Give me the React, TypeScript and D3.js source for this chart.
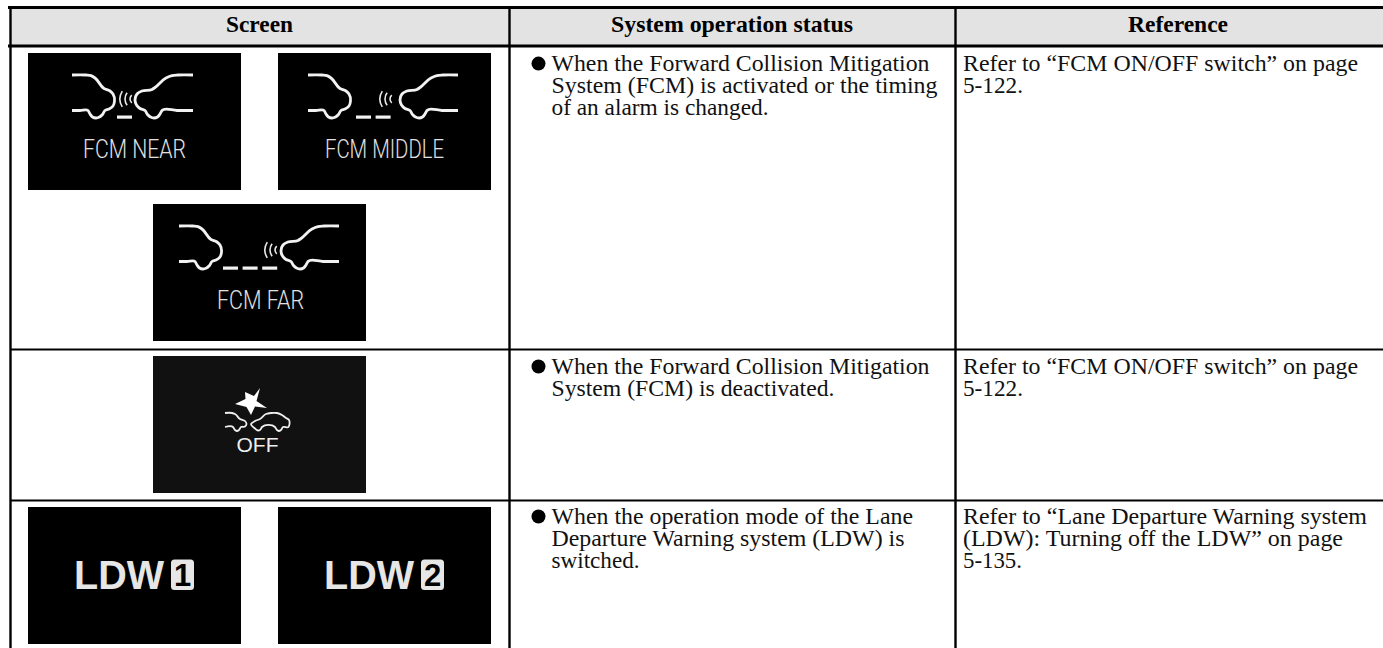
import React from "react";
import * as d3 from "d3";

// table text
const headers = ["Screen", "System operation status", "Reference"];
const statusLines = [
  ["When the Forward Collision Mitigation", "System (FCM) is activated or the timing", "of an alarm is changed."],
  ["When the Forward Collision Mitigation", "System (FCM) is deactivated."],
  ["When the operation mode of the Lane", "Departure Warning system (LDW) is", "switched."],
];
const referenceLines = [
  ["Refer to “FCM ON/OFF switch” on page", "5-122."],
  ["Refer to “FCM ON/OFF switch” on page", "5-122."],
  ["Refer to “Lane Departure Warning system", "(LDW): Turning off the LDW” on page", "5-135."],
];
// measured line widths, same shape as the text above
const statusWidths = [[378, 386, 217], [378, 283], [361.5, 353, 88]];
const referenceWidths = [[395, 60], [395, 60], [404, 380, 59]];

// screen tiles
const fcmTiles = [
  { label: "FCM NEAR", dashes: 1, col: 0, row: 0, carLeft: 44, carRight: 165, dashX: 89, waveX: 107, labelX: 55, labelW: 103 },
  { label: "FCM MIDDLE", dashes: 2, col: 1, row: 0, carLeft: 30, carRight: 180, dashX: 78, waveX: 117, labelX: 47, labelW: 119 },
  { label: "FCM FAR", dashes: 3, col: 2, row: 1, carLeft: 26, carRight: 186, dashX: 70, waveX: 127, labelX: 64, labelW: 87 },
];
const ldwTiles = [
  { digit: "1", col: 0 },
  { digit: "2", col: 1 },
];

// glyph outlines in local pixels
const carRearPts: [number, number][] = [[0, 0], [14, 0], [19, 0.6], [23, 3], [32, 13.5], [38, 16], [41, 19], [42.5, 26], [41, 31], [37, 34], [33, 35.5], [30.5, 39.5], [27.5, 42], [24, 43], [20.5, 42], [18, 39], [16, 35.5], [8, 35.5], [0, 35.5]];
const carFrontPts: [number, number][] = [[0, 0], [15, 0], [21, 0.6], [27, 3], [38, 12.5], [41, 14.5], [51, 16], [56, 19], [58, 25], [56.5, 30], [53, 33.5], [48, 35.5], [45.5, 39.5], [42.5, 42], [39, 43], [35.5, 42], [33, 39], [31, 35.5], [16, 35.5], [0, 35.5]];
const smallRearPts: [number, number][] = [[0, 0], [7, 0], [10, 1], [15, 6], [20, 8], [21.5, 11], [20, 13.5], [16, 14], [14, 17], [12, 18], [10, 17], [8, 14], [0, 14]];
const smallFrontPts: [number, number][] = [[0, 11], [4, 8], [9, 6], [15, 1], [20, 0], [26, 0], [31, 2], [35, 5], [38, 7], [38.5, 11], [37.5, 14], [32, 14], [30, 17], [28, 18], [26, 17], [24, 14], [11, 14], [9, 17], [7, 17.5], [4, 15.5]];
const starPts: [number, number][] = [[10, -15], [4, -7], [-5, -11], [-4.5, -4], [-15, 1], [-3.5, 4], [1, 12], [5, 3.5], [17, 5], [6.5, -2]];
const waves = [
  { r: 15, a: 32 },
  { r: 10, a: 38 },
  { r: 5, a: 50 },
];

const W = 1383;
const H = 648;
const colLines = [10.5, 509.5, 955.5];
const rowLines = [7.5, 46, 349.5, 500.5];
const rowBaseline = [24.6, 24, 23];
const tileW = 213;
const tileH = 137;
const tileX = d3.scaleOrdinal<number, number>().domain([0, 1, 2]).range([28, 278, 153]);
const textFont = "'Liberation Serif', serif";

const curved = d3.line().curve(d3.curveCatmullRom.alpha(1));
const closed = d3.line().curve(d3.curveCatmullRomClosed.alpha(1));
const straight = d3.line();

function Lines({ lines, widths, x, y }: { lines: string[]; widths: number[]; x: number; y: number }) {
  return (
    <>
      {lines.map((t, i) => (
        <text key={i} x={x} y={y + i * 22.3} fontFamily={textFont} fontSize={22.5} fill="#111" textLength={widths[i]} lengthAdjust="spacingAndGlyphs">
          {t}
        </text>
      ))}
    </>
  );
}

function FcmTile({ tile, y }: { tile: (typeof fcmTiles)[number]; y: number }) {
  const x = tileX(tile.col);
  const wave = d3.arc();
  return (
    <g transform={`translate(${x},${y})`}>
      <rect width={tileW} height={tileH} fill="#000" />
      <g fill="none" stroke="#f2f2f2" strokeWidth={2.8} strokeLinejoin="round">
        <path d={curved(carRearPts)!} transform={`translate(${tile.carLeft},22)`} />
        <path d={curved(carFrontPts)!} transform={`translate(${tile.carRight},22) scale(-1,1)`} />
      </g>
      {d3.range(tile.dashes).map((i) => (
        <rect key={i} x={tile.dashX + i * 19.6} y={62.5} width={15} height={3.2} fill="#f2f2f2" />
      ))}
      {waves.map((w, i) => (
        <path
          key={i}
          transform={`translate(${tile.waveX},46)`}
          fill="#e8e8e8"
          d={wave({ innerRadius: w.r - 0.8, outerRadius: w.r + 0.8, startAngle: ((-90 - w.a) * Math.PI) / 180, endAngle: ((-90 + w.a) * Math.PI) / 180 } as any)!}
        />
      ))}
      <text x={tile.labelX} y={105} fontFamily="Roboto, sans-serif" fontWeight={300} fontSize={26} fill="#e0e0e0" textLength={tile.labelW} lengthAdjust="spacingAndGlyphs">
        {tile.label}
      </text>
    </g>
  );
}

function OffTile({ y }: { y: number }) {
  return (
    <g transform={`translate(${tileX(2)},${y})`}>
      <rect width={tileW} height={tileH} fill="#111" />
      <path d={straight(starPts) + "Z"} transform="translate(97,47)" fill="#fff" />
      <path d={curved(smallRearPts)!} transform="translate(72,57)" fill="none" stroke="#eee" strokeWidth={1.8} />
      <path d={closed(smallFrontPts)!} transform="translate(98,57)" fill="none" stroke="#eee" strokeWidth={1.8} />
      <text x={83.5} y={96} fontFamily="'Liberation Sans', sans-serif" fontSize={20} fill="#eee" textLength={42} lengthAdjust="spacingAndGlyphs">
        OFF
      </text>
    </g>
  );
}

function LdwTile({ tile, y }: { tile: (typeof ldwTiles)[number]; y: number }) {
  return (
    <g transform={`translate(${tileX(tile.col)},${y})`}>
      <rect width={tileW} height={tileH} fill="#000" />
      <text x={46} y={82} fontFamily="'Liberation Sans', sans-serif" fontWeight={700} fontSize={41} fill="#e6e6e6" textLength={90} lengthAdjust="spacingAndGlyphs">
        LDW
      </text>
      <rect x={143} y={52.5} width={23} height={30.5} rx={3.5} fill="#e6e6e6" />
      <text x={154.5} y={78.5} textAnchor="middle" fontFamily="'Liberation Sans', sans-serif" fontWeight={700} fontSize={31} fill="#000">
        {tile.digit}
      </text>
    </g>
  );
}

export default function App() {
  const headerCenters = [259.5, 732, 1178];
  const headerWidths = [67, 242, 100];
  const rowTops = [rowLines[1], rowLines[2], rowLines[3]];
  return (
    <svg width={W} height={H} style={{ position: "absolute", left: 0, top: 0, background: "#fff" }}>
      <rect x={colLines[0]} y={rowLines[0]} width={W - colLines[0]} height={rowLines[1] - rowLines[0]} fill="#e3e3e3" />

      {fcmTiles.map((t) => (
        <FcmTile key={t.label} tile={t} y={t.row === 0 ? 53 : 204} />
      ))}
      <OffTile y={356} />
      {ldwTiles.map((t) => (
        <LdwTile key={t.digit} tile={t} y={507} />
      ))}

      {headers.map((h, i) => (
        <text key={h} x={headerCenters[i]} y={31.5} textAnchor="middle" fontFamily={textFont} fontWeight={700} fontSize={23} fill="#000" textLength={headerWidths[i]} lengthAdjust="spacingAndGlyphs">
          {h}
        </text>
      ))}

      {statusLines.map((lines, i) => (
        <g key={i}>
          <circle cx={538.5} cy={rowTops[i] + rowBaseline[i] - 7} r={7} fill="#000" />
          <Lines lines={lines} widths={statusWidths[i]} x={551.5} y={rowTops[i] + rowBaseline[i]} />
          <Lines lines={referenceLines[i]} widths={referenceWidths[i]} x={963} y={rowTops[i] + rowBaseline[i]} />
        </g>
      ))}

      <g stroke="#000" fill="none">
        <line x1={8} x2={W} y1={rowLines[0]} y2={rowLines[0]} strokeWidth={3} />
        <line x1={8} x2={W} y1={rowLines[1]} y2={rowLines[1]} strokeWidth={3} />
        <line x1={colLines[0]} x2={W} y1={rowLines[2]} y2={rowLines[2]} strokeWidth={2.2} />
        <line x1={colLines[0]} x2={W} y1={rowLines[3]} y2={rowLines[3]} strokeWidth={2.2} />
        {colLines.map((x) => (
          <line key={x} x1={x} x2={x} y1={rowLines[0]} y2={H} strokeWidth={2.4} />
        ))}
      </g>
    </svg>
  );
}
